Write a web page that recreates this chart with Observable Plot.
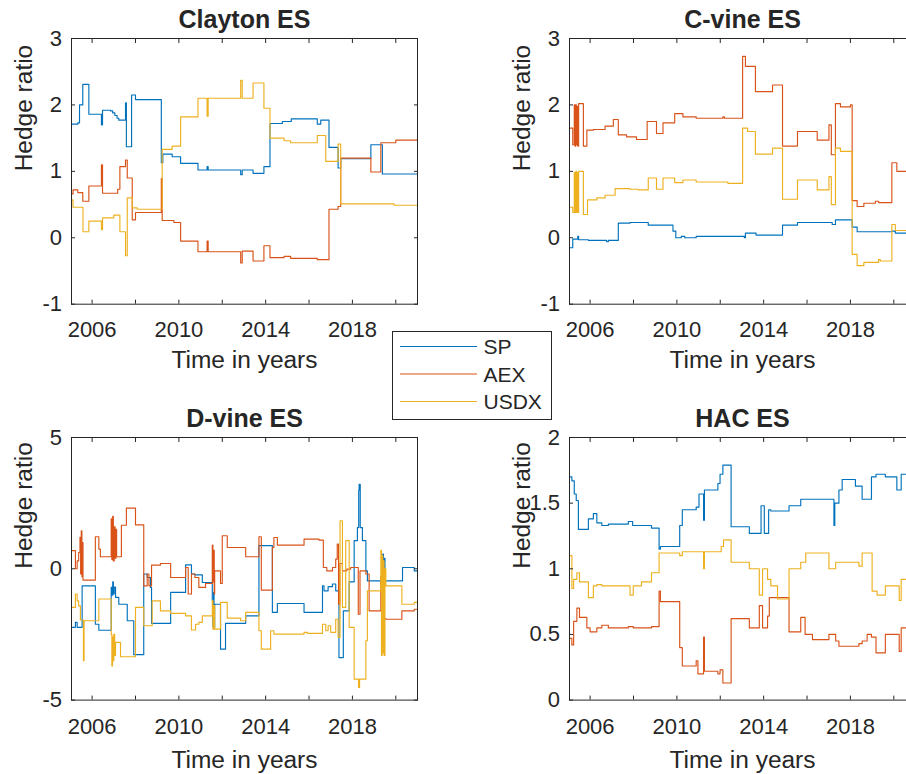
<!DOCTYPE html>
<html>
<head>
<meta charset="utf-8">
<script src="https://cdn.jsdelivr.net/npm/d3@7"></script>
<script src="https://cdn.jsdelivr.net/npm/@observablehq/plot@0.6"></script>
<style>
  html, body { margin: 0; padding: 0; background: #fff; }
  #fig { position: relative; width: 906px; height: 774px; overflow: hidden; background: #fff; }
  #fig > svg, #fig > div { position: absolute; }
</style>
</head>
<body>
<div id="fig"></div>
<script>
// ---- series names, colours, ticks ----
const seriesNames = ["SP", "AEX", "USDX"];
const seriesColors = ["#0072BD", "#D95319", "#EDB120"];
const xTicks = [2006, 2008, 2010, 2012, 2014, 2016, 2018, 2020];
const xTickLabels = [2006, 2010, 2014, 2018];
const xDomain = [2005.05, 2021];

// ---- Clayton ES: [year, hedge ratio] step points ----
const claytonSP = [[2005.05,1.71],[2005.34,1.73],[2005.42,2.0],[2005.57,2.31],[2005.85,1.86],[2006.43,1.7],[2006.48,1.92],[2006.85,1.91],[2006.95,1.88],[2007.05,1.84],[2007.15,1.8],[2007.23,1.77],[2007.54,2.03],[2007.58,1.37],[2007.82,2.15],[2008.0,2.08],[2009.19,1.13],[2009.26,1.26],[2009.69,1.22],[2010.08,1.12],[2010.88,1.02],[2011.3,1.07],[2011.35,1.02],[2012.85,0.95],[2012.92,1.02],[2013.42,0.97],[2013.92,1.07],[2014.2,1.72],[2014.77,1.75],[2015.18,1.79],[2016.38,1.71],[2016.54,1.77],[2016.92,1.36],[2017.34,1.05],[2017.46,1.19],[2018.85,1.4],[2019.38,0.96],[2021,0.96]];
const claytonAEX = [[2005.05,0.66],[2005.12,0.72],[2005.34,0.68],[2005.57,0.55],[2005.85,0.78],[2006.43,1.1],[2006.48,0.67],[2007.18,0.73],[2007.28,1.07],[2007.54,1.17],[2007.62,0.9],[2007.85,0.27],[2008.0,0.38],[2009.19,0.89],[2009.23,0.26],[2009.77,0.23],[2010.08,-0.05],[2010.88,-0.21],[2011.3,-0.05],[2011.35,-0.21],[2012.85,-0.38],[2012.92,-0.2],[2013.42,-0.35],[2013.92,-0.12],[2014.2,-0.3],[2014.85,-0.28],[2015.15,-0.31],[2016.38,-0.33],[2016.92,0.43],[2017.34,0.47],[2017.46,1.2],[2018.85,0.99],[2019.31,1.43],[2020.0,1.47],[2021,1.47]];
const claytonUSDX = [[2005.05,0.57],[2005.12,0.46],[2005.58,0.09],[2005.85,0.25],[2006.43,0.12],[2006.48,0.3],[2007.0,0.34],[2007.28,0.09],[2007.54,-0.27],[2007.62,0.6],[2007.85,0.45],[2008.08,0.43],[2009.23,1.33],[2009.69,1.38],[2010.08,1.82],[2010.88,2.1],[2011.3,1.83],[2011.35,2.1],[2012.85,2.37],[2012.92,2.1],[2013.42,2.33],[2013.92,1.95],[2014.2,1.5],[2014.85,1.46],[2015.15,1.43],[2016.38,1.54],[2016.77,1.15],[2017.34,1.41],[2017.46,0.51],[2019.92,0.49],[2021,0.49]];

// ---- C-vine ES ----
const cvineSP = [[2005.05,-0.15],[2005.2,-0.02],[2005.43,0.02],[2005.47,-0.03],[2005.92,-0.04],[2006.76,-0.06],[2006.84,-0.04],[2007.3,0.22],[2007.84,0.23],[2008.68,0.19],[2009.82,0.1],[2009.95,0.0],[2010.2,0.02],[2010.36,0.0],[2010.89,0.02],[2013.11,0.0],[2013.16,0.07],[2013.65,0.04],[2014.87,0.19],[2015.56,0.23],[2017.16,0.2],[2017.31,0.27],[2018.08,0.16],[2018.31,0.09],[2019.91,0.1],[2020.07,0.07],[2021,0.07]];
const cvineAEX = [[2005.05,1.65],[2005.2,1.4],[2005.27,2.0],[2005.3,1.38],[2005.34,2.0],[2005.37,1.4],[2005.4,1.98],[2005.43,1.38],[2005.47,2.02],[2005.69,1.38],[2005.85,1.62],[2006.15,1.63],[2006.69,1.68],[2007.07,1.78],[2007.3,1.55],[2007.68,1.52],[2008.14,1.48],[2008.63,1.75],[2009.06,1.57],[2009.36,1.73],[2009.9,1.87],[2010.28,1.82],[2010.89,1.8],[2012.12,1.82],[2012.19,1.8],[2013.03,2.73],[2013.16,2.58],[2013.62,2.2],[2014.41,2.3],[2014.87,1.38],[2015.56,1.6],[2016.47,1.47],[2017.01,1.7],[2017.12,1.25],[2017.31,2.02],[2017.54,1.97],[2018.0,2.0],[2018.08,0.56],[2018.31,0.47],[2018.62,0.52],[2019.15,0.55],[2019.3,0.53],[2019.91,1.13],[2020.14,1.0],[2021,1.0]];
const cvineUSDX = [[2005.05,0.46],[2005.2,0.38],[2005.27,0.98],[2005.3,0.38],[2005.34,1.0],[2005.37,0.38],[2005.4,0.98],[2005.43,0.38],[2005.47,1.0],[2005.69,0.35],[2005.88,0.57],[2006.31,0.6],[2006.69,0.64],[2007.15,0.74],[2007.84,0.73],[2008.22,0.72],[2008.68,0.9],[2009.06,0.73],[2009.36,0.9],[2009.9,0.83],[2010.28,0.87],[2010.89,0.84],[2012.35,0.82],[2013.03,1.65],[2013.26,1.6],[2013.62,1.26],[2014.41,1.35],[2014.87,0.58],[2015.56,0.87],[2016.47,0.72],[2017.01,0.92],[2017.12,0.5],[2017.31,1.35],[2017.54,1.3],[2018.08,-0.25],[2018.31,-0.42],[2018.62,-0.37],[2019.3,-0.33],[2019.38,-0.35],[2019.91,0.2],[2020.07,0.11],[2021,0.11]];

// ---- D-vine ES ----
const dvineSP = [[2005.05,-2.23],[2005.23,-2.04],[2005.31,-2.23],[2005.54,-0.65],[2006.15,-2.11],[2006.31,-2.34],[2006.88,-0.71],[2006.92,-1.0],[2006.95,-0.5],[2006.98,-0.96],[2007.02,-0.7],[2007.08,-1.09],[2007.23,-1.35],[2007.62,-1.98],[2007.92,-3.27],[2008.38,-0.2],[2008.54,-0.33],[2008.69,-0.71],[2008.74,-2.08],[2009.62,-0.9],[2010.31,0.15],[2010.58,-0.2],[2010.74,-0.23],[2011.08,-0.52],[2011.54,-1.2],[2011.57,-2.2],[2011.6,-0.9],[2011.62,-2.23],[2011.65,-1.35],[2011.92,-3.06],[2012.15,-2.08],[2013.08,-1.79],[2013.69,0.88],[2014.31,-1.66],[2014.54,-1.32],[2015.77,-1.66],[2016.62,-0.65],[2016.69,-0.84],[2016.88,-0.68],[2017.08,-0.58],[2017.23,-0.84],[2017.38,-3.38],[2017.58,-1.6],[2017.85,-0.5],[2018.08,1.07],[2018.23,1.57],[2018.29,3.0],[2018.31,3.22],[2018.36,1.57],[2018.46,1.07],[2018.62,-0.08],[2018.69,-0.46],[2019.4,0.56],[2019.43,-0.46],[2019.47,0.4],[2019.5,-0.46],[2020.31,0.05],[2020.85,-0.08],[2021,-0.08]];
const dvineAEX = [[2005.05,0.69],[2005.23,0.0],[2005.31,0.3],[2005.38,0.62],[2005.44,1.2],[2005.47,-0.2],[2005.5,1.45],[2005.53,-0.3],[2005.56,1.0],[2005.58,-0.43],[2006.15,1.22],[2006.31,0.75],[2006.38,0.46],[2006.88,1.9],[2006.91,0.35],[2006.95,2.0],[2006.98,0.3],[2007.02,1.6],[2007.06,0.4],[2007.1,1.5],[2007.13,0.46],[2007.35,1.66],[2007.58,2.31],[2008.0,1.67],[2008.38,-0.65],[2008.54,-0.2],[2008.62,-0.65],[2008.74,0.14],[2009.15,0.2],[2009.62,-0.33],[2010.31,0.05],[2010.43,-0.96],[2010.58,-0.2],[2010.74,-0.33],[2010.92,-0.71],[2011.23,-0.56],[2011.54,0.9],[2011.57,-0.5],[2011.6,0.7],[2011.63,-0.96],[2011.65,-0.08],[2011.92,-0.56],[2012.0,1.26],[2012.23,0.81],[2013.08,0.46],[2013.69,1.22],[2013.8,-0.81],[2014.31,0.81],[2014.38,1.19],[2014.54,0.9],[2015.77,1.13],[2016.46,1.09],[2016.66,0.05],[2016.82,-0.08],[2017.08,0.05],[2017.23,0.37],[2017.3,0.94],[2017.36,-1.35],[2017.42,0.2],[2017.54,-0.08],[2017.74,-0.01],[2017.92,0.05],[2018.27,-1.73],[2018.35,-0.08],[2018.62,-0.2],[2018.77,-1.6],[2019.31,-0.3],[2019.35,-1.9],[2019.4,-0.5],[2019.45,-1.9],[2019.54,-1.92],[2020.28,-1.6],[2020.85,-1.54],[2021,-1.54]];
const dvineUSDX = [[2005.05,-1.47],[2005.23,-0.96],[2005.31,-1.22],[2005.38,-1.41],[2005.46,-1.95],[2005.6,-3.5],[2005.63,-1.98],[2006.31,-1.15],[2006.88,-2.5],[2006.91,-3.7],[2006.94,-2.6],[2006.97,-3.5],[2007.0,-2.5],[2007.04,-3.3],[2007.08,-2.8],[2007.31,-3.35],[2008.0,-1.47],[2008.38,-2.17],[2008.77,-1.22],[2009.15,-1.6],[2009.62,-1.7],[2010.31,-1.79],[2010.58,-2.33],[2010.77,-2.11],[2010.92,-2.04],[2011.08,-1.79],[2011.54,-1.2],[2011.57,-2.3],[2011.6,-1.4],[2011.65,-2.3],[2011.92,-1.28],[2012.23,-1.88],[2012.85,-1.98],[2013.08,-1.66],[2013.69,-2.36],[2013.8,-3.06],[2014.23,-2.36],[2014.38,-2.49],[2015.77,-2.42],[2015.92,-2.46],[2016.62,-2.11],[2016.77,-2.36],[2016.88,-2.17],[2017.0,-2.42],[2017.23,-1.92],[2017.34,-2.61],[2017.43,1.83],[2017.54,-1.47],[2017.69,1.07],[2017.85,-2.23],[2018.08,-4.2],[2018.28,-4.52],[2018.33,-4.2],[2018.62,-2.74],[2018.69,-0.84],[2019.31,0.7],[2019.34,-3.3],[2019.37,0.5],[2019.4,-3.2],[2019.43,0.3],[2019.46,-3.3],[2019.5,0.0],[2019.54,-0.65],[2020.28,-1.35],[2020.85,-1.28],[2021,-1.28]];

// ---- HAC ES ----
const hacSP = [[2005.05,1.7],[2005.16,1.67],[2005.27,1.57],[2005.36,1.52],[2005.46,1.3],[2005.92,1.38],[2006.15,1.42],[2006.31,1.35],[2006.54,1.33],[2006.84,1.34],[2007.76,1.36],[2007.96,1.33],[2008.83,1.31],[2009.18,1.15],[2009.24,1.17],[2010.13,1.33],[2010.25,1.45],[2010.89,1.47],[2011.02,1.57],[2011.23,1.37],[2011.27,1.6],[2011.89,1.65],[2011.99,1.72],[2012.12,1.79],[2012.5,1.32],[2013.34,1.27],[2013.88,1.48],[2014.03,1.27],[2014.23,1.45],[2014.33,1.44],[2015.17,1.48],[2015.71,1.53],[2017.24,1.33],[2017.28,1.5],[2017.47,1.6],[2017.62,1.68],[2018.23,1.63],[2018.54,1.53],[2018.97,1.7],[2019.18,1.72],[2019.61,1.7],[2020.14,1.6],[2020.34,1.72],[2021,1.72]];
const hacAEX = [[2005.05,0.47],[2005.16,0.42],[2005.24,0.6],[2005.39,0.7],[2005.51,0.63],[2005.85,0.55],[2006.0,0.52],[2006.31,0.55],[2006.54,0.57],[2006.84,0.55],[2007.76,0.56],[2007.99,0.55],[2008.83,0.56],[2009.18,0.83],[2009.24,0.75],[2010.13,0.4],[2010.25,0.26],[2010.89,0.3],[2010.97,0.2],[2011.23,0.48],[2011.27,0.22],[2011.89,0.2],[2011.99,0.23],[2012.12,0.13],[2012.5,0.62],[2013.34,0.55],[2013.8,0.72],[2013.95,0.55],[2014.18,0.64],[2014.26,0.78],[2015.17,0.52],[2015.71,0.63],[2015.91,0.5],[2016.25,0.46],[2017.01,0.5],[2017.32,0.45],[2017.47,0.41],[2018.39,0.43],[2018.54,0.45],[2018.77,0.5],[2018.97,0.48],[2019.18,0.36],[2019.61,0.5],[2020.25,0.37],[2020.34,0.55],[2021,0.55]];
const hacUSDX = [[2005.05,1.1],[2005.16,0.85],[2005.24,0.92],[2005.39,0.97],[2005.51,0.9],[2005.92,0.78],[2006.15,0.87],[2006.31,0.88],[2006.54,0.87],[2007.84,0.8],[2007.99,0.87],[2008.37,0.9],[2008.83,0.97],[2009.18,1.12],[2010.13,1.1],[2010.25,1.13],[2011.23,1.0],[2011.27,1.13],[2012.04,1.17],[2012.15,1.22],[2012.5,1.05],[2013.34,1.0],[2013.8,0.8],[2013.95,1.0],[2014.18,0.92],[2014.33,0.87],[2014.64,0.77],[2015.17,1.0],[2015.71,1.05],[2015.94,1.12],[2017.01,1.0],[2017.32,1.05],[2018.39,1.02],[2018.54,1.12],[2019.0,0.83],[2019.23,0.8],[2019.61,0.87],[2020.25,0.76],[2020.34,0.92],[2021,0.92]];

// ---- build long-format rows ----
function rows(sp, aex, usdx) {
  const out = [];
  [sp, aex, usdx].forEach((s, i) => s.forEach(([year, value]) => out.push({year, value, series: seriesNames[i]})));
  return out;
}

const FONT = "'Liberation Sans', Arial, Helvetica, sans-serif";
const INK = "#262626";
const fig = document.getElementById("fig");

function panel({title, data, yDomain, yTicks, left, top, plotH, tickPad, labelDy}) {
  const mL = 75, mR = 20, mT = 45, mB = 80, plotW = 346;
  const svg = Plot.plot({
    width: mL + plotW + mR,
    height: mT + plotH + mB,
    marginLeft: mL, marginRight: mR, marginTop: mT, marginBottom: mB,
    style: {fontFamily: FONT, color: INK, background: "none", overflow: "visible"},
    x: {domain: xDomain},
    y: {domain: yDomain},
    color: {domain: seriesNames, range: seriesColors},
    marks: [
      Plot.line(data, {x: "year", y: "value", z: "series", stroke: "series", curve: "step-after", strokeWidth: 1.15}),
      Plot.frame({stroke: INK, strokeWidth: 1}),
      // inward tick marks on all four sides
      Plot.axisX(xTicks, {anchor: "bottom", tickSize: -4, fill: "none", label: null}),
      Plot.axisX(xTicks, {anchor: "top", tickSize: -4, fill: "none", label: null}),
      Plot.axisY(yTicks, {anchor: "left", tickSize: -4, fill: "none", label: null}),
      Plot.axisY(yTicks, {anchor: "right", tickSize: -4, fill: "none", label: null}),
      // tick labels
      Plot.axisX(xTickLabels, {anchor: "bottom", tickSize: 0, tickPadding: tickPad, tickFormat: d => String(d), fontSize: 22, label: null}),
      Plot.axisY(yTicks, {anchor: "left", tickSize: 0, tickPadding: 9.5, tickFormat: d => String(d), fontSize: 22, label: null}),
      // title and axis titles
      Plot.text([title], {text: d => d, frameAnchor: "top", dy: -10.5, lineAnchor: "bottom", fontWeight: "bold", fontSize: 25}),
      Plot.text(["Time in years"], {text: d => d, frameAnchor: "bottom", dy: labelDy, lineAnchor: "top", fontSize: 24.5}),
      Plot.text(["Hedge ratio"], {text: d => d, frameAnchor: "left", dx: -40, rotate: -90, lineAnchor: "bottom", fontSize: 24.5})
    ]
  });
  svg.style.left = (left - mL) + "px";
  svg.style.top = (top - mT) + "px";
  fig.appendChild(svg);
}

panel({title: "Clayton ES", data: rows(claytonSP, claytonAEX, claytonUSDX), yDomain: [-1, 3], yTicks: [-1, 0, 1, 2, 3],
       left: 71, top: 38.3, plotH: 265.7, tickPad: 17.5, labelDy: 46.5});
panel({title: "C-vine ES", data: rows(cvineSP, cvineAEX, cvineUSDX), yDomain: [-1, 3], yTicks: [-1, 0, 1, 2, 3],
       left: 569.3, top: 38.3, plotH: 265.7, tickPad: 17.5, labelDy: 46.5});
panel({title: "D-vine ES", data: rows(dvineSP, dvineAEX, dvineUSDX), yDomain: [-5, 5], yTicks: [-5, 0, 5],
       left: 71, top: 436.7, plotH: 262.6, tickPad: 18.7, labelDy: 50.5});
panel({title: "HAC ES", data: rows(hacSP, hacAEX, hacUSDX), yDomain: [0, 2], yTicks: [0, 0.5, 1, 1.5, 2],
       left: 569.3, top: 436.7, plotH: 262.6, tickPad: 18.7, labelDy: 50.5});

// ---- legend box ----
const ns = "http://www.w3.org/2000/svg";
const leg = document.createElementNS(ns, "svg");
leg.setAttribute("width", 160);
leg.setAttribute("height", 89);
leg.style.left = "391.5px";
leg.style.top = "330.5px";
leg.style.fontFamily = FONT;
const box = document.createElementNS(ns, "rect");
box.setAttribute("x", 0.5); box.setAttribute("y", 0.5);
box.setAttribute("width", 159); box.setAttribute("height", 88);
box.setAttribute("fill", "#fff"); box.setAttribute("stroke", INK);
leg.appendChild(box);
seriesNames.forEach((name, i) => {
  const cy = 15.5 + i * 27.5;
  const ln = document.createElementNS(ns, "line");
  ln.setAttribute("x1", 8); ln.setAttribute("x2", 85);
  ln.setAttribute("y1", cy); ln.setAttribute("y2", cy);
  ln.setAttribute("stroke", seriesColors[i]); ln.setAttribute("stroke-width", 1.2);
  leg.appendChild(ln);
  const tx = document.createElementNS(ns, "text");
  tx.setAttribute("x", 91.5); tx.setAttribute("y", cy);
  tx.setAttribute("dy", "0.36em");
  tx.setAttribute("font-size", 21);
  tx.setAttribute("fill", INK);
  tx.textContent = name;
  leg.appendChild(tx);
});
fig.appendChild(leg);
</script>
</body>
</html>
